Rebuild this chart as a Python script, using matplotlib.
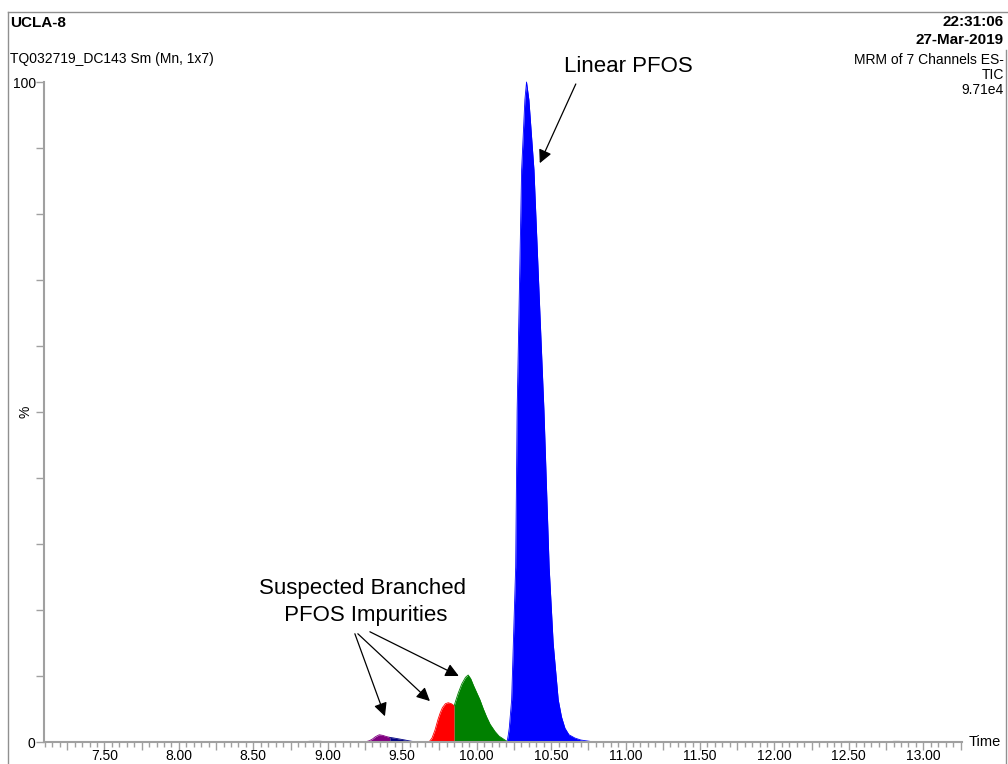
import numpy as np
import matplotlib
matplotlib.use('Agg')
import matplotlib.pyplot as plt
from matplotlib.ticker import MultipleLocator, FuncFormatter
from matplotlib.lines import Line2D

plt.rcParams['font.family'] = ['Liberation Sans', 'DejaVu Sans']

# TIC trace, split by integrated peak (time in min, intensity in %)
baseline_t = [7.10, 8.85, 8.88, 8.95, 8.98, 10.78, 10.95, 12.45, 12.47, 12.52, 12.55, 12.78, 12.80, 12.84, 12.86, 13.26]
baseline_i = [0.0, 0.0, 0.12, 0.12, 0.0, 0.0, 0.0, 0.0, 0.08, 0.08, 0.0, 0.0, 0.1, 0.1, 0.0, 0.0]

purple_t = [9.25, 9.28, 9.30, 9.32, 9.346, 9.37, 9.39, 9.417]
purple_i = [0.0, 0.2, 0.45, 0.8, 1.1, 1.0, 0.85, 0.7]

navy_t = [9.417, 9.44, 9.47, 9.50, 9.53, 9.56, 9.60]
navy_i = [0.7, 0.62, 0.5, 0.38, 0.25, 0.12, 0.0]

red_t = [9.68, 9.70, 9.72, 9.74, 9.755, 9.77, 9.79, 9.809, 9.83, 9.849]
red_i = [0.0, 0.6, 1.8, 3.4, 4.4, 5.2, 5.8, 5.95, 5.8, 5.5]

green_t = [9.849, 9.86, 9.876, 9.90, 9.925, 9.943, 9.96, 9.98, 10.00, 10.022,
           10.045, 10.067, 10.09, 10.123, 10.15, 10.19, 10.205]
green_i = [5.5, 6.3, 7.4, 8.8, 9.8, 10.15, 9.6, 8.5, 7.5, 6.4,
           5.0, 3.8, 2.7, 1.6, 0.9, 0.3, 0.1]

blue_t = [10.205, 10.212, 10.219, 10.235, 10.262, 10.272, 10.302, 10.324, 10.335,
          10.351, 10.385, 10.452, 10.487, 10.514, 10.548, 10.57, 10.593, 10.62,
          10.66, 10.70, 10.76, 10.78]
blue_i = [0.1, 1.0, 2.1, 6.4, 26.5, 50.3, 86.7, 97.3, 100.0,
          97.3, 86.7, 50.3, 26.5, 15.0, 6.4, 3.8, 2.1, 1.1,
          0.6, 0.3, 0.1, 0.0]

peaks = [(purple_t, purple_i, '#800080'),
         (navy_t, navy_i, '#000080'),
         (red_t, red_i, '#ff0000'),
         (green_t, green_i, '#008000'),
         (blue_t, blue_i, '#0000ff')]

fig = plt.figure(figsize=(10.08, 7.64), dpi=100)
ax = fig.add_axes([44/1008, 1-742/764, 918/1008, 660/764])

ax.plot(baseline_t, baseline_i, color='#b4b4b4', lw=0.8, clip_on=False)
for t, i, c in peaks:
    ax.fill_between(t, 0, i, color=c, lw=0, clip_on=False)
    ax.plot(t, i, color=c, lw=0.6, clip_on=False)

ax.set_xlim(7.094, 13.26)
ax.set_ylim(0, 100)

gray = '#a0a0a0'
for s in ['top', 'right']:
    ax.spines[s].set_visible(False)
for s in ['left', 'bottom']:
    ax.spines[s].set_color(gray)
    ax.spines[s].set_linewidth(1.5)

ax.xaxis.set_major_locator(MultipleLocator(0.25))
ax.xaxis.set_minor_locator(MultipleLocator(0.05))
ax.xaxis.set_major_formatter(FuncFormatter(
    lambda v, pos: '%.2f' % v if abs(v * 2 - round(v * 2)) < 1e-6 else ''))
ax.yaxis.set_major_locator(MultipleLocator(10))
ax.yaxis.set_major_formatter(FuncFormatter(
    lambda v, pos: '%d' % v if v in (0, 100) else ''))

ax.tick_params(axis='x', which='major', length=6, width=1, color=gray, labelsize=10, pad=-1)
ax.tick_params(axis='x', which='minor', length=3.5, width=1, color=gray)
ax.tick_params(axis='y', which='major', length=6, width=1, color=gray, labelsize=10, pad=0)

ax.text(-0.012, 50, '%', transform=ax.get_yaxis_transform(), rotation=90,
        ha='right', va='center', fontsize=10)
ax.text(1.025, 0, 'Time', transform=ax.get_yaxis_transform(),
        ha='center', va='center', fontsize=10.5)

# header text
fig.text(10/1008, 1-23/764, 'UCLA-8', fontsize=11, fontweight='bold', va='center')
fig.text(10/1008, 1-59/764, 'TQ032719_DC143 Sm (Mn, 1x7)', fontsize=10, va='center')
fig.text(1004/1008, 1-22/764, '22:31:06', fontsize=11, fontweight='bold', ha='right', va='center')
fig.text(1004/1008, 1-40/764, '27-Mar-2019', fontsize=11, fontweight='bold', ha='right', va='center')
fig.text(1004/1008, 1-60/764, 'MRM of 7 Channels ES-', fontsize=10, ha='right', va='center')
fig.text(1004/1008, 1-75/764, 'TIC', fontsize=10, ha='right', va='center')
fig.text(1004/1008, 1-90/764, '9.71e4', fontsize=10, ha='right', va='center')

# frame
fig.add_artist(Line2D([8/1008, 1], [1-12/764, 1-12/764], color='#909090', lw=1))
fig.add_artist(Line2D([8/1008, 8/1008], [0, 1-12/764], color='#909090', lw=1))
fig.add_artist(Line2D([1006/1008, 1006/1008], [0, 1-50/764], color='#909090', lw=1))

# annotations
arrow = dict(arrowstyle='-|>', color='black', lw=0.9, mutation_scale=20,
             shrinkA=0, shrinkB=0)
ax.text(11.016, 102.4, 'Linear PFOS', fontsize=16, ha='center', va='center')
ax.annotate('', xy=(10.424, 87.7), xytext=(10.666, 99.7), arrowprops=arrow,
            annotation_clip=False)

ax.text(9.236, 21.2, 'Suspected Branched\n PFOS Impurities', fontsize=16,
        ha='center', va='center', multialignment='center', linespacing=1.4)
ax.annotate('', xy=(9.384, 3.9), xytext=(9.182, 16.4), arrowprops=arrow)
ax.annotate('', xy=(9.686, 6.2), xytext=(9.202, 16.4), arrowprops=arrow)
ax.annotate('', xy=(9.88, 10.0), xytext=(9.283, 16.7), arrowprops=arrow)

plt.savefig('out.png', dpi=100)
